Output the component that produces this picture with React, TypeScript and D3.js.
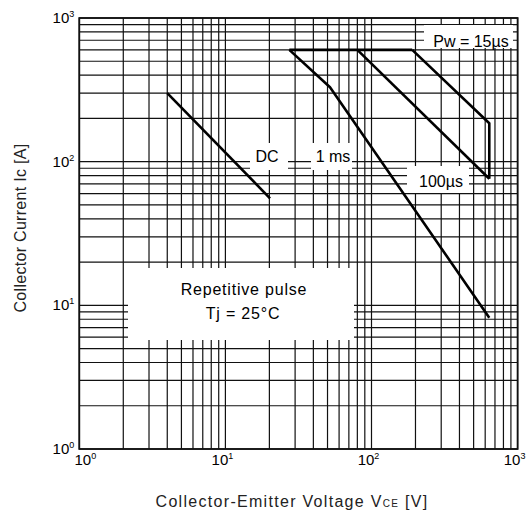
import React from "react";
import * as d3 from "d3";

const xDomain = [1, 1000];
const yDomain = [1, 1000];
const decadeTicks = [1, 10, 100, 1000];

const dcV = [4, 20.2];
const dcI = [300, 55.6];
const ms1V = [27.4, 52, 640];
const ms1I = [600, 330, 8.2];
const us100V = [80, 640];
const us100I = [600, 76];
const us15V = [190, 640, 640];
const us15I = [600, 185, 76];
const limitV = [27.4, 190];
const limitI = [600, 600];

const W = 531, H = 517;
const L = 79.3, R = 517.6, T = 18, B = 449;

const font = "'Liberation Sans', Arial, sans-serif";

function zip(v: number[], i: number[]): [number, number][] {
  return v.map((d, k) => [d, i[k]]);
}

export default function App() {
  const x = d3.scaleLog().domain(xDomain).range([L, R]);
  const y = d3.scaleLog().domain(yDomain).range([B, T]);
  const xg = x.ticks();
  const yg = y.ticks();
  const line = d3.line<[number, number]>().x(d => x(d[0])).y(d => y(d[1]));

  const curves = [
    zip(dcV, dcI),
    zip(ms1V, ms1I),
    zip(us100V, us100I),
    zip(us15V, us15I),
    zip(limitV, limitI),
  ];

  const boxes = [
    { x: 128, y: 268, w: 226, h: 72 },
    { x: 424, y: 25, w: 89, h: 23 },
    { x: 407, y: 166, w: 62, h: 27 },
    { x: 250, y: 143, w: 38, h: 27 },
    { x: 311, y: 143, w: 41, h: 27 },
  ];

  return (
    <svg width={W} height={H} style={{ position: "absolute", left: 0, top: 0, background: "#fff" }}>
      <rect x={0} y={0} width={W} height={H} fill="#fff" />
      <g stroke="#111" strokeWidth={1.2}>
        {xg.map((v, i) => (
          <line key={"x" + i} x1={x(v)} x2={x(v)} y1={T} y2={B} />
        ))}
        {yg.map((v, i) => (
          <line key={"y" + i} x1={L} x2={R} y1={y(v)} y2={y(v)} />
        ))}
      </g>
      {boxes.map((b, i) => (
        <rect key={"b" + i} x={b.x} y={b.y} width={b.w} height={b.h} fill="#fff" />
      ))}
      <rect x={L} y={T} width={R - L} height={B - T} fill="none" stroke="#111" strokeWidth={1.8} />
      <g fill="none" stroke="#000" strokeWidth={2.6} strokeLinejoin="round">
        {curves.map((c, i) => (
          <path key={"c" + i} d={line(c) || ""} />
        ))}
      </g>
      <g fontFamily={font} fontSize={15} fill="#000">
        {decadeTicks.map((v, i) => (
          <text key={"yt" + i} x={L - 5} y={y(v) + 5} textAnchor="end">
            10<tspan fontSize={9} dy={-6}>{Math.log10(v)}</tspan>
          </text>
        ))}
        {decadeTicks.map((v, i) => (
          <text key={"xt" + i} x={x(v) + (i === 0 ? 6 : -3)} y={B + 16} textAnchor="middle">
            10<tspan fontSize={9} dy={-6}>{Math.log10(v)}</tspan>
          </text>
        ))}
      </g>
      <g fontFamily={font} fontSize={16} fill="#000" textAnchor="middle">
        <text x={267} y={162}>DC</text>
        <text x={333} y={162}>1 ms</text>
        <text x={441} y={187}>100µs</text>
        <text x={471} y={47}>Pw = 15µs</text>
        <text x={244} y={295} letterSpacing={0.8}>Repetitive pulse</text>
        <text x={243} y={319} letterSpacing={0.8}>Tj = 25°C</text>
      </g>
      <g fontFamily={font} fontSize={16} fill="#222" textAnchor="middle">
        <text x={292} y={507} letterSpacing={1.3}>
          Collector-Emitter Voltage V<tspan fontSize={10}>CE</tspan> [V]
        </text>
        <text transform={`translate(26,228) rotate(-90)`} letterSpacing={0.3}>Collector Current Ic [A]</text>
      </g>
    </svg>
  );
}
